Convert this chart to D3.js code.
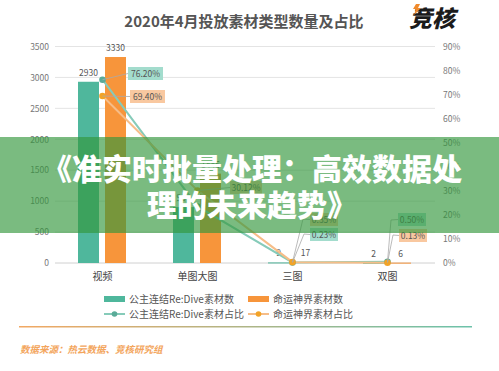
<!DOCTYPE html>
<html>
<head>
<meta charset="utf-8">
<script src="https://cdn.jsdelivr.net/npm/d3@7"></script>
<style>
  body { margin: 0; background: #fff; }
  svg { display: block; font-family: "Noto Sans CJK SC", "Noto Sans", sans-serif; }
</style>
</head>
<body>
<svg id="chart" width="499" height="371"></svg>
<script>
const categories = ["视频", "单图大图", "三图", "双图"];
const pcrCounts = [2930, 904, 9, 2];
const mlCounts = [3330, 1445, 17, 6];
const pcrShare = [76.20, 23.51, 0.23, 0.50];
const mlShare = [69.40, 30.12, 0.35, 0.13];
const countTicks = [0, 500, 1000, 1500, 2000, 2500, 3000, 3500];
const shareTicks = [0, 10, 20, 30, 40, 50, 60, 70, 80, 90];
const seriesNames = ["公主连结Re:Dive素材数", "命运神界素材数", "公主连结Re:Dive素材占比", "命运神界素材占比"];

// Colors
const teal = "#4fb79c";
const orange = "#f7953b";
const tealLine = "#86cbb9";
const orangeLine = "#f6bd88";
const tealDot = "#5aab98";
const orangeDot = "#f2a327";
const tealBox = "#a3dccd";
const orangeBox = "#f9c8a0";
const textColor = "#555";

// callout placement for the share labels (box left/top, optional elbow)
const shareLabels = [
  { series: "pcr", i: 0, bx: 128, by: 67, elbow: null },
  { series: "ml", i: 0, bx: 130, by: 90, elbow: null },
  { series: "ml", i: 1, bx: 230, by: 181, elbow: null },
  { series: "ml", i: 2, bx: 310, by: 213, elbow: [303, 219] },
  { series: "pcr", i: 2, bx: 310, by: 228, elbow: [304, 234] },
  { series: "pcr", i: 3, bx: 398, by: 213, elbow: [391, 220] },
  { series: "ml", i: 3, bx: 399, by: 229, elbow: [393, 235] }
];

const svg = d3.select("#chart");

const x = d3.scaleBand().domain(categories).range([55, 435]);
const xSub = d3.scaleBand().domain(["pcr", "ml"]).range([23, 71]).paddingInner(0.222);
const yLeft = d3.scaleLinear().domain([0, 3500]).range([263, 46.5]);
const yRight = d3.scaleLinear().domain([0, 90]).range([263, 46.5]);
const cx = c => x(c) + x.bandwidth() / 2;

// title
svg.append("text")
  .attr("x", 244).attr("y", 27)
  .attr("text-anchor", "middle")
  .attr("font-size", 15).attr("font-weight", 700)
  .attr("fill", "#555")
  .text("2020年4月投放素材类型数量及占比");

// logo
svg.append("text")
  .attr("x", 409).attr("y", 27)
  .attr("font-size", 23).attr("font-weight", 900)
  .attr("font-style", "italic")
  .attr("fill", "#1b1b1b")
  .text("竞核");
svg.append("path")
  .attr("d", "M416,4 L420,4 L418,8 L421,8 L414,15 L416,9 L413,9 Z")
  .attr("fill", "#f08a2c");

// gridlines
svg.append("g").selectAll("line")
  .data(countTicks)
  .join("line")
  .attr("x1", 55).attr("x2", 435)
  .attr("y1", d => yLeft(d)).attr("y2", d => yLeft(d))
  .attr("stroke", d => d === 0 ? "#d0d0d0" : "#e4e4e4")
  .attr("stroke-width", 1);

// left axis
const leftAxis = svg.append("g")
  .attr("transform", "translate(49,0)")
  .call(d3.axisLeft(yLeft).tickValues(countTicks).tickSize(0).tickPadding(0).tickFormat(d3.format("d")));
leftAxis.select(".domain").remove();
leftAxis.selectAll("text").attr("font-size", 8.5).attr("fill", "#777").attr("font-family", "Noto Sans CJK SC");

// right axis
const rightAxis = svg.append("g")
  .attr("transform", "translate(443,0)")
  .call(d3.axisRight(yRight).tickValues(shareTicks).tickSize(0).tickPadding(0).tickFormat(d => d + "%"));
rightAxis.select(".domain").remove();
rightAxis.selectAll("text").attr("font-size", 8.5).attr("fill", "#777").attr("font-family", "Noto Sans CJK SC");

// category labels
svg.append("g").selectAll("text")
  .data(categories)
  .join("text")
  .attr("x", d => cx(d)).attr("y", 280)
  .attr("text-anchor", "middle")
  .attr("font-size", 10).attr("fill", "#444")
  .text(d => d);

// bars
const barData = categories.flatMap((c, i) => [
  { cat: c, key: "pcr", value: pcrCounts[i] },
  { cat: c, key: "ml", value: mlCounts[i] }
]);
svg.append("g").selectAll("rect")
  .data(barData)
  .join("rect")
  .attr("x", d => x(d.cat) + xSub(d.key))
  .attr("width", xSub.bandwidth())
  .attr("y", d => yLeft(d.value))
  .attr("height", d => Math.max(1, yLeft(0) - yLeft(d.value)))
  .attr("fill", d => d.key === "pcr" ? teal : orange);

svg.append("g").selectAll("text")
  .data(barData)
  .join("text")
  .attr("x", d => x(d.cat) + xSub(d.key) + xSub.bandwidth() / 2)
  .attr("y", d => yLeft(d.value) - 6)
  .attr("text-anchor", "middle")
  .attr("font-size", 8.5).attr("fill", textColor)
  .text(d => d.value);

// share lines
const line = d3.line().x((d, i) => cx(categories[i])).y(d => yRight(d));
svg.append("path").datum(pcrShare)
  .attr("d", line).attr("fill", "none")
  .attr("stroke", tealLine).attr("stroke-width", 2);
svg.append("path").datum(mlShare)
  .attr("d", line).attr("fill", "none")
  .attr("stroke", orangeLine).attr("stroke-width", 2);

svg.append("g").selectAll("circle")
  .data(pcrShare)
  .join("circle")
  .attr("cx", (d, i) => cx(categories[i])).attr("cy", d => yRight(d))
  .attr("r", 3.3).attr("fill", tealDot);
svg.append("g").selectAll("circle")
  .data(mlShare)
  .join("circle")
  .attr("cx", (d, i) => cx(categories[i])).attr("cy", d => yRight(d))
  .attr("r", 3.3).attr("fill", orangeDot);

// share callouts
const callouts = svg.append("g");
shareLabels.forEach(l => {
  const v = l.series === "pcr" ? pcrShare[l.i] : mlShare[l.i];
  const px = cx(categories[l.i]);
  const py = yRight(v);
  const w = l.i === 0 ? 35 : (l.i === 1 ? 32 : 28);
  const h = 13;
  const midY = l.by + h / 2;
  const pts = l.elbow ? [[px, py], l.elbow, [l.bx, midY]] : [[px, py], [l.bx, midY]];
  callouts.append("path")
    .attr("d", d3.line()(pts))
    .attr("fill", "none").attr("stroke", "#a9a9a9").attr("stroke-width", 0.8);
  callouts.append("rect")
    .attr("x", l.bx).attr("y", l.by).attr("width", w).attr("height", h)
    .attr("fill", l.series === "pcr" ? tealBox : orangeBox);
  callouts.append("text")
    .attr("x", l.bx + w / 2).attr("y", l.by + 9.8)
    .attr("text-anchor", "middle")
    .attr("font-size", 8.5).attr("fill", "#555")
    .text(v.toFixed(2) + "%");
});

// legend
const legend = svg.append("g");
const legendItems = [
  { name: seriesNames[0], x: 104, y: 299, kind: "bar", color: teal },
  { name: seriesNames[1], x: 248, y: 299, kind: "bar", color: orange },
  { name: seriesNames[2], x: 104, y: 314, kind: "line", color: tealLine, dot: tealDot },
  { name: seriesNames[3], x: 248, y: 314, kind: "line", color: orangeLine, dot: orangeDot }
];
legendItems.forEach(d => {
  if (d.kind === "bar") {
    legend.append("rect")
      .attr("x", d.x).attr("y", d.y - 3).attr("width", 21).attr("height", 6)
      .attr("fill", d.color);
  } else {
    legend.append("line")
      .attr("x1", d.x).attr("x2", d.x + 21).attr("y1", d.y).attr("y2", d.y)
      .attr("stroke", d.color).attr("stroke-width", 2);
    legend.append("circle")
      .attr("cx", d.x + 10.5).attr("cy", d.y).attr("r", 2.8).attr("fill", d.dot);
  }
  legend.append("text")
    .attr("x", d.x + 25).attr("y", d.y + 3.6)
    .attr("font-size", 10).attr("fill", textColor)
    .text(d.name);
});

// separator
const grad = svg.append("defs").append("linearGradient").attr("id", "sep");
grad.append("stop").attr("offset", "0%").attr("stop-color", "#f2a863");
grad.append("stop").attr("offset", "100%").attr("stop-color", "#6cc2aa");
svg.append("rect")
  .attr("x", 19).attr("y", 326).attr("width", 453).attr("height", 1.5)
  .attr("fill", "url(#sep)");

// source note
svg.append("text")
  .attr("x", 20).attr("y", 353)
  .attr("font-size", 9.5).attr("font-weight", 700).attr("font-style", "italic")
  .attr("fill", "#f3a55c")
  .text("数据来源：热云数据、竞核研究组");

// overlay banner
svg.append("rect")
  .attr("x", 0).attr("y", 137).attr("width", 499).attr("height", 96)
  .attr("fill", "rgb(50,150,60)").attr("opacity", 0.65);
const bannerLines = ["《准实时批量处理：高效数据处", "理的未来趋势》"];
svg.append("g").selectAll("text")
  .data(bannerLines)
  .join("text")
  .attr("x", 252).attr("y", (d, i) => 180 + i * 36)
  .attr("text-anchor", "middle")
  .attr("font-size", 30).attr("font-weight", 900)
  .attr("fill", "#fff")
  .text(d => d);
</script>
</body>
</html>
